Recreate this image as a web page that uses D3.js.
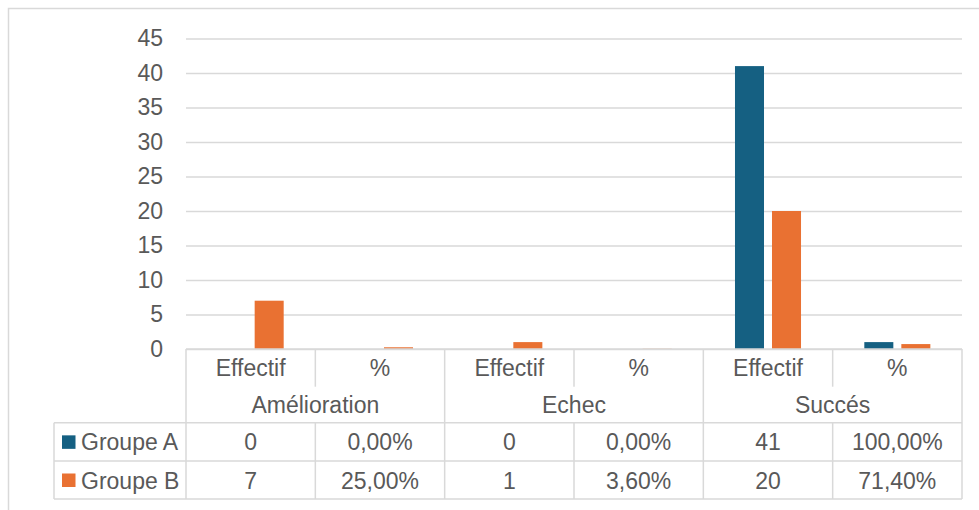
<!DOCTYPE html>
<html>
<head>
<meta charset="utf-8">
<script src="https://cdn.jsdelivr.net/npm/d3@7"></script>
<style>
  html, body { margin: 0; padding: 0; background: #fff; }
  svg text { font-family: "Liberation Sans", Arial, sans-serif; fill: #595959; }
</style>
</head>
<body>
<svg id="chart" width="979" height="510"></svg>
<script>
// Outcome groups and the two measures shown under each
const categories = ["Amélioration", "Echec", "Succés"];
const measures = ["Effectif", "%"];
const seriesNames = ["Groupe A", "Groupe B"];
// Values per (category, measure), in order: Amélioration Effectif, %, Echec Effectif, %, Succés Effectif, %
const groupeA = [0, 0, 0, 0, 41, 1.0];
const groupeB = [7, 0.25, 1, 0.036, 20, 0.714];
const yTicks = [0, 5, 10, 15, 20, 25, 30, 35, 40, 45];
const colors = ["#156082", "#E97132"];

const svg = d3.select("#chart");
const grid = "#D9D9D9";
const fontSize = 23;

// Frame around the chart area
svg.append("rect")
  .attr("x", 8.5).attr("y", 8.5).attr("width", 1000).attr("height", 1000)
  .attr("fill", "none").attr("stroke", grid).attr("stroke-width", 1.5);

const plotLeft = 186, plotRight = 962, plotTop = 38.5, base = 349;
const headRow = 386.7, catRow = 422.7, rowA = 461, rowB = 499, legendLeft = 54;

// One slot per (category, measure)
const slots = [];
categories.forEach(c => measures.forEach(m => slots.push(c + "|" + m)));

const x0 = d3.scaleBand().domain(slots).range([plotLeft, plotRight]);
const x1 = d3.scaleBand().domain(seriesNames).range([0, x0.bandwidth()])
  .paddingInner(0.216).paddingOuter(0.855);
const y = d3.scaleLinear().domain([0, 45]).range([base, plotTop]);

// Horizontal gridlines and value axis labels
const yAxis = d3.axisLeft(y).tickValues(yTicks).tickSize(-(plotRight - plotLeft)).tickPadding(23);
const ga = svg.append("g").attr("transform", `translate(${plotLeft},0)`).call(yAxis);
ga.select(".domain").remove();
ga.selectAll(".tick line").attr("stroke", grid).attr("stroke-width", 1.5);
ga.selectAll(".tick text")
  .attr("font-size", fontSize).attr("fill", "#595959")
  .style("font-family", "'Liberation Sans', Arial, sans-serif");

// Bars
const series = [groupeA, groupeB];
series.forEach((vals, si) => {
  svg.append("g").selectAll("rect")
    .data(vals.map((v, i) => ({ slot: slots[i], v })))
    .join("rect")
    .attr("x", d => x0(d.slot) + x1(seriesNames[si]))
    .attr("width", x1.bandwidth())
    .attr("y", d => y(d.v))
    .attr("height", d => base - y(d.v))
    .attr("fill", colors[si]);
});

// Data table beneath the plot
const tbl = svg.append("g").attr("stroke", grid).attr("stroke-width", 1.5).attr("fill", "none");
const hline = (xa, xb, yy) => tbl.append("line").attr("x1", xa).attr("x2", xb).attr("y1", yy).attr("y2", yy);
const vline = (xx, ya, yb) => tbl.append("line").attr("x1", xx).attr("x2", xx).attr("y1", ya).attr("y2", yb);

hline(plotLeft, plotRight, base);
hline(legendLeft, plotRight, catRow);
hline(legendLeft, plotRight, rowA);
hline(legendLeft, plotRight, rowB);
vline(legendLeft, catRow, rowB);
slots.forEach((s, i) => {
  const xx = x0(s);
  if (i % 2 === 0) vline(xx, base, rowB);
  else { vline(xx, base, headRow); vline(xx, catRow, rowB); }
});
vline(plotRight, base, rowB);

const txt = (xx, yy, s, anchor) => svg.append("text")
  .attr("x", xx).attr("y", yy).attr("text-anchor", anchor || "middle")
  .attr("dominant-baseline", "central").attr("font-size", fontSize).text(s);

slots.forEach(s => {
  txt(x0(s) + x0.bandwidth() / 2, (base + headRow) / 2 + 0.5, s.split("|")[1]);
});
categories.forEach(c => {
  const a = x0(c + "|" + measures[0]);
  const b = x0(c + "|" + measures[1]) + x0.bandwidth();
  txt((a + b) / 2, (headRow + catRow) / 2 + 0.5, c);
});

const fmt = (v, i) => i % 2 === 0 ? String(v)
  : (v * 100).toFixed(2).replace(".", ",") + "%";

const rows = [[catRow, rowA], [rowA, rowB]];
series.forEach((vals, si) => {
  const [r0, r1] = rows[si];
  const cy = (r0 + r1) / 2;
  svg.append("rect").attr("x", 62).attr("y", cy - 6.5).attr("width", 13.5).attr("height", 13.5)
    .attr("fill", colors[si]);
  txt(81, cy + 0.5, seriesNames[si], "start");
  vals.forEach((v, i) => txt(x0(slots[i]) + x0.bandwidth() / 2, cy + 0.5, fmt(v, i)));
});
</script>
</body>
</html>
